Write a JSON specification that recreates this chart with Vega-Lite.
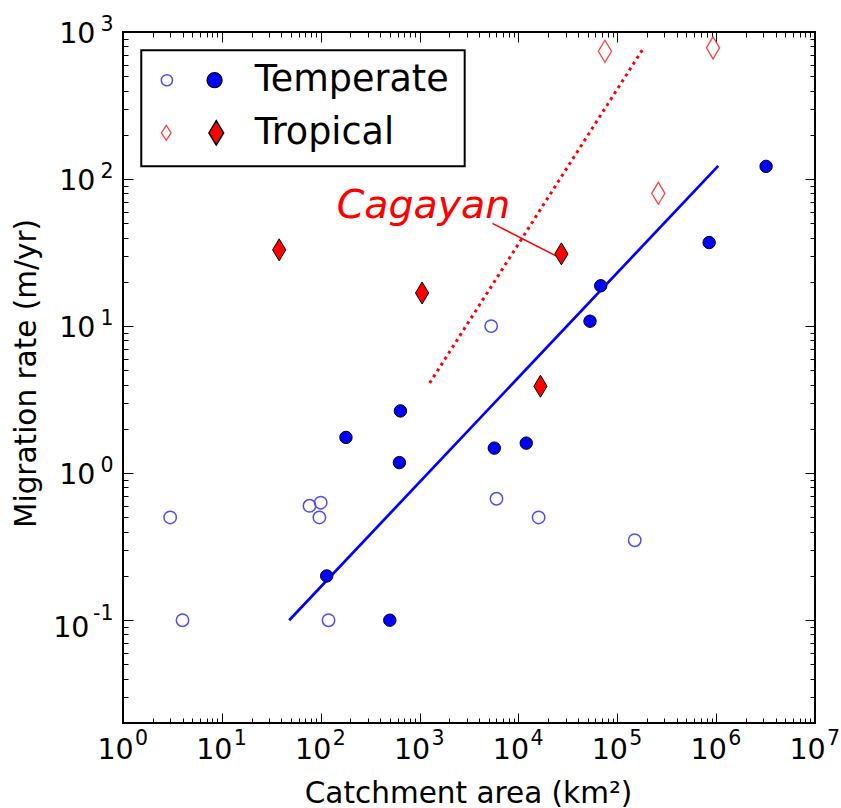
{
  "$schema": "https://vega.github.io/schema/vega-lite/v6.json",
  "width": 692,
  "height": 691,
  "autosize": {"type": "none"},
  "padding": {"left": 123, "top": 32, "right": 26, "bottom": 85},
  "background": "white",
  "config": {
    "view": {"stroke": "black", "strokeWidth": 2},
    "font": "DejaVu Sans",
    "axis": {"grid": false, "domain": false, "labelFont": "DejaVu Sans", "titleFont": "DejaVu Sans", "labelColor": "black", "titleColor": "black", "tickColor": "black", "tickWidth": 1, "labelFlush": false, "labelOverlap": false, "labelBound": false}
  },
  "datasets": {
    "openT": [{"area": 3, "rate": 0.5}, {"area": 4, "rate": 0.1}, {"area": 77, "rate": 0.6}, {"area": 100, "rate": 0.63}, {"area": 97, "rate": 0.5}, {"area": 120, "rate": 0.1}, {"area": 5300, "rate": 10}, {"area": 6000, "rate": 0.67}, {"area": 16000, "rate": 0.5}, {"area": 150000, "rate": 0.35}],
    "filledT": [{"area": 180, "rate": 1.75}, {"area": 640, "rate": 2.65}, {"area": 625, "rate": 1.18}, {"area": 115, "rate": 0.2}, {"area": 500, "rate": 0.1}, {"area": 5700, "rate": 1.48}, {"area": 12000, "rate": 1.6}, {"area": 53000, "rate": 10.8}, {"area": 68000, "rate": 18.8}, {"area": 850000, "rate": 37}, {"area": 3200000, "rate": 122}],
    "filledTr": [{"area": 38, "rate": 33}, {"area": 1060, "rate": 16.8}, {"area": 27200, "rate": 31}, {"area": 16700, "rate": 3.9}],
    "openTr": [{"area": 75000, "rate": 740}, {"area": 930000, "rate": 780}, {"area": 260000, "rate": 80}],
    "fitT": [{"area": 48, "rate": 0.1}, {"area": 1050000, "rate": 123}],
    "fitTr": [{"area": 1265, "rate": 4.1}, {"area": 187000, "rate": 790}],
    "pointer": [{"area": 5460, "rate": 49.9}, {"area": 24300, "rate": 29.9}],
    "cagayan": [{"area": 145, "rate": 54, "text": "Cagayan"}],
    "legendBox": [{"area": 1.53, "area2": 2860, "rate": 751, "rate2": 122.4}],
    "legOpenT": [{"area": 2.78, "rate": 470}],
    "legFilledT": [{"area": 8.44, "rate": 470}],
    "legOpenTr": [{"area": 2.74, "rate": 206}],
    "legFilledTr": [{"area": 8.78, "rate": 206}],
    "legText": [{"area": 21.5, "rate": 395, "text": "Temperate"}, {"area": 21.5, "rate": 172.6, "text": "Tropical"}]
  },
  "resolve": {"axis": {"x": "independent", "y": "independent"}},
  "layer": [
    {
      "data": {"name": "fitT"},
      "mark": {"type": "line", "color": "#0000ff", "strokeWidth": 2.7},
      "encoding": {
        "x": {"field": "area", "type": "quantitative", "scale": {"type": "log", "domain": [1, 10000000], "nice": false},
          "axis": {"orient": "bottom", "values": [1, 10, 100, 1000, 10000, 100000, 1000000, 10000000], "labels": false, "tickSize": -10, "title": null}},
        "y": {"field": "rate", "type": "quantitative", "scale": {"type": "log", "domain": [0.02, 1000], "nice": false},
          "axis": {"orient": "left", "values": [0.1, 1, 10, 100, 1000], "labels": false, "tickSize": -10, "title": null}}
      }
    },
    {
      "data": {"name": "fitTr"},
      "mark": {"type": "line", "color": "#ff0000", "strokeWidth": 3, "strokeDash": [3, 4]},
      "encoding": {
        "x": {"field": "area", "type": "quantitative", "scale": {"type": "log", "domain": [1, 10000000], "nice": false},
          "axis": {"orient": "bottom", "values": [2,3,4,5,6,7,8,9,20,30,40,50,60,70,80,90,200,300,400,500,600,700,800,900,2000,3000,4000,5000,6000,7000,8000,9000,20000,30000,40000,50000,60000,70000,80000,90000,200000,300000,400000,500000,600000,700000,800000,900000,2000000,3000000,4000000,5000000,6000000,7000000,8000000,9000000], "labels": false, "tickSize": -5, "title": null}},
        "y": {"field": "rate", "type": "quantitative", "scale": {"type": "log", "domain": [0.02, 1000], "nice": false},
          "axis": {"orient": "left", "values": [0.03,0.04,0.05,0.06,0.07,0.08,0.09,0.2,0.3,0.4,0.5,0.6,0.7,0.8,0.9,2,3,4,5,6,7,8,9,20,30,40,50,60,70,80,90,200,300,400,500,600,700,800,900], "labels": false, "tickSize": -5, "title": null}}
      }
    },
    {
      "data": {"name": "pointer"},
      "mark": {"type": "line", "color": "#ff0000", "strokeWidth": 1.5},
      "encoding": {
        "x": {"field": "area", "type": "quantitative", "scale": {"type": "log", "domain": [1, 10000000], "nice": false},
          "axis": {"orient": "top", "values": [1, 10, 100, 1000, 10000, 100000, 1000000, 10000000], "labels": false, "tickSize": -10, "title": null}},
        "y": {"field": "rate", "type": "quantitative", "scale": {"type": "log", "domain": [0.02, 1000], "nice": false},
          "axis": {"orient": "right", "values": [0.1, 1, 10, 100, 1000], "labels": false, "tickSize": -10, "title": null}}
      }
    },
    {
      "data": {"name": "openT"},
      "mark": {"type": "point", "shape": "circle", "filled": false, "stroke": "#4d4dff", "strokeWidth": 1.5, "size": 154, "opacity": 1},
      "encoding": {
        "x": {"field": "area", "type": "quantitative", "scale": {"type": "log", "domain": [1, 10000000], "nice": false},
          "axis": {"orient": "top", "values": [2,3,4,5,6,7,8,9,20,30,40,50,60,70,80,90,200,300,400,500,600,700,800,900,2000,3000,4000,5000,6000,7000,8000,9000,20000,30000,40000,50000,60000,70000,80000,90000,200000,300000,400000,500000,600000,700000,800000,900000,2000000,3000000,4000000,5000000,6000000,7000000,8000000,9000000], "labels": false, "tickSize": -5, "title": null}},
        "y": {"field": "rate", "type": "quantitative", "scale": {"type": "log", "domain": [0.02, 1000], "nice": false},
          "axis": {"orient": "right", "values": [0.03,0.04,0.05,0.06,0.07,0.08,0.09,0.2,0.3,0.4,0.5,0.6,0.7,0.8,0.9,2,3,4,5,6,7,8,9,20,30,40,50,60,70,80,90,200,300,400,500,600,700,800,900], "labels": false, "tickSize": -5, "title": null}}
      }
    },
    {
      "data": {"name": "filledT"},
      "mark": {"type": "point", "shape": "circle", "filled": true, "fill": "#0000ff", "stroke": "black", "strokeWidth": 1, "size": 154, "opacity": 1, "fillOpacity": 1, "strokeOpacity": 1},
      "encoding": {
        "x": {"field": "area", "type": "quantitative", "scale": {"type": "log", "domain": [1, 10000000], "nice": false},
          "axis": {"orient": "bottom", "values": [1, 10, 100, 1000, 10000, 100000, 1000000, 10000000], "ticks": false,
            "labelExpr": "['-2','-1','0','1','2','3','4','5','6','7'][round(log(datum.value)/LN10)+2]",
            "labelFontSize": 20.5, "labelPadding": 5.5, "labelOffset": 18, "labelAlign": "center", "labelBaseline": "top", "title": null}},
        "y": {"field": "rate", "type": "quantitative", "scale": {"type": "log", "domain": [0.02, 1000], "nice": false},
          "axis": {"orient": "left", "values": [1, 10, 100, 1000], "ticks": false,
            "labelExpr": "['-2','-1','0','1','2','3','4','5','6','7'][round(log(datum.value)/LN10)+2]",
            "labelFontSize": 20.5, "labelPadding": 10, "labelOffset": -8, "labelAlign": "right", "labelBaseline": "middle", "title": null}}
      }
    },
    {
      "data": {"name": "openTr"},
      "mark": {"type": "point", "shape": "M0,-1L0.6,0L0,1L-0.6,0Z", "filled": false, "stroke": "#ff4040", "strokeWidth": 1.3, "size": 484, "opacity": 1},
      "encoding": {
        "x": {"field": "area", "type": "quantitative", "scale": {"type": "log", "domain": [1, 10000000], "nice": false}, "axis": null},
        "y": {"field": "rate", "type": "quantitative", "scale": {"type": "log", "domain": [0.02, 1000], "nice": false},
          "axis": {"orient": "left", "values": [0.1], "ticks": false, "labelExpr": "'10'",
            "labelFontSize": 28.5, "labelPadding": 34, "labelOffset": 7, "labelAlign": "right", "labelBaseline": "middle", "title": null}}
      }
    },
    {
      "data": {"name": "filledTr"},
      "mark": {"type": "point", "shape": "M0,-1L0.6,0L0,1L-0.6,0Z", "filled": true, "fill": "#ff0000", "stroke": "black", "strokeWidth": 1, "size": 484, "opacity": 1, "fillOpacity": 1, "strokeOpacity": 1},
      "encoding": {
        "x": {"field": "area", "type": "quantitative", "scale": {"type": "log", "domain": [1, 10000000], "nice": false}, "axis": null},
        "y": {"field": "rate", "type": "quantitative", "scale": {"type": "log", "domain": [0.02, 1000], "nice": false},
          "axis": {"orient": "left", "values": [0.1], "ticks": false, "labelExpr": "'-1'",
            "labelFontSize": 20.5, "labelPadding": 10, "labelOffset": -7, "labelAlign": "right", "labelBaseline": "middle", "title": null}}
      }
    },
    {
      "data": {"name": "cagayan"},
      "mark": {"type": "text", "color": "#ff0000", "fontSize": 39.5, "fontStyle": "italic", "font": "DejaVu Sans", "align": "left", "baseline": "alphabetic"},
      "encoding": {
        "x": {"field": "area", "type": "quantitative", "scale": {"type": "log", "domain": [1, 10000000], "nice": false}, "axis": null},
        "y": {"field": "rate", "type": "quantitative", "scale": {"type": "log", "domain": [0.02, 1000], "nice": false}, "axis": null},
        "text": {"field": "text"}
      }
    },
    {
      "data": {"name": "legendBox"},
      "mark": {"type": "rect", "fill": "white", "stroke": "black", "strokeWidth": 2},
      "encoding": {
        "x": {"field": "area", "type": "quantitative", "scale": {"type": "log", "domain": [1, 10000000], "nice": false},
          "axis": {"orient": "bottom", "values": [1, 10, 100, 1000, 10000, 100000, 1000000, 10000000], "ticks": false,
            "labelExpr": "'10'",
            "labelFontSize": 28.5, "labelPadding": 12.5, "labelOffset": -8, "labelAlign": "center", "labelBaseline": "top",
            "title": "Catchment area (km²)", "titleFontSize": 29.5, "titleFontWeight": "normal", "titleX": 345, "titleY": 79, "titleBaseline": "alphabetic", "titleAlign": "center"}},
        "x2": {"field": "area2"},
        "y": {"field": "rate", "type": "quantitative", "scale": {"type": "log", "domain": [0.02, 1000], "nice": false},
          "axis": {"orient": "left", "values": [1, 10, 100, 1000], "ticks": false,
            "labelExpr": "'10'",
            "labelFontSize": 28.5, "labelPadding": 28, "labelOffset": 1.5, "labelAlign": "right", "labelBaseline": "middle",
            "title": "Migration rate (m/yr)", "titleFontSize": 29.5, "titleFontWeight": "normal", "titleX": -88, "titleY": 341, "titleAngle": 270, "titleBaseline": "alphabetic", "titleAlign": "center"}},
        "y2": {"field": "rate2"}
      }
    },
    {
      "data": {"name": "legOpenT"},
      "mark": {"type": "point", "shape": "circle", "filled": false, "stroke": "#4d4dff", "strokeWidth": 1.5, "size": 125, "opacity": 1},
      "encoding": {
        "x": {"field": "area", "type": "quantitative", "scale": {"type": "log", "domain": [1, 10000000], "nice": false}, "axis": null},
        "y": {"field": "rate", "type": "quantitative", "scale": {"type": "log", "domain": [0.02, 1000], "nice": false}, "axis": null}
      }
    },
    {
      "data": {"name": "legFilledT"},
      "mark": {"type": "point", "shape": "circle", "filled": true, "fill": "#0000ff", "stroke": "black", "strokeWidth": 1.2, "size": 227, "opacity": 1, "fillOpacity": 1, "strokeOpacity": 1},
      "encoding": {
        "x": {"field": "area", "type": "quantitative", "scale": {"type": "log", "domain": [1, 10000000], "nice": false}, "axis": null},
        "y": {"field": "rate", "type": "quantitative", "scale": {"type": "log", "domain": [0.02, 1000], "nice": false}, "axis": null}
      }
    },
    {
      "data": {"name": "legOpenTr"},
      "mark": {"type": "point", "shape": "M0,-1L0.65,0L0,1L-0.65,0Z", "filled": false, "stroke": "#ff4040", "strokeWidth": 1.3, "size": 225, "opacity": 1},
      "encoding": {
        "x": {"field": "area", "type": "quantitative", "scale": {"type": "log", "domain": [1, 10000000], "nice": false}, "axis": null},
        "y": {"field": "rate", "type": "quantitative", "scale": {"type": "log", "domain": [0.02, 1000], "nice": false}, "axis": null}
      }
    },
    {
      "data": {"name": "legFilledTr"},
      "mark": {"type": "point", "shape": "M0,-1L0.6,0L0,1L-0.6,0Z", "filled": true, "fill": "#ff0000", "stroke": "black", "strokeWidth": 1.5, "size": 600, "opacity": 1, "fillOpacity": 1, "strokeOpacity": 1},
      "encoding": {
        "x": {"field": "area", "type": "quantitative", "scale": {"type": "log", "domain": [1, 10000000], "nice": false}, "axis": null},
        "y": {"field": "rate", "type": "quantitative", "scale": {"type": "log", "domain": [0.02, 1000], "nice": false}, "axis": null}
      }
    },
    {
      "data": {"name": "legText"},
      "mark": {"type": "text", "color": "black", "fontSize": 36.5, "font": "DejaVu Sans", "align": "left", "baseline": "alphabetic"},
      "encoding": {
        "x": {"field": "area", "type": "quantitative", "scale": {"type": "log", "domain": [1, 10000000], "nice": false}, "axis": null},
        "y": {"field": "rate", "type": "quantitative", "scale": {"type": "log", "domain": [0.02, 1000], "nice": false}, "axis": null},
        "text": {"field": "text"}
      }
    }
  ]
}
